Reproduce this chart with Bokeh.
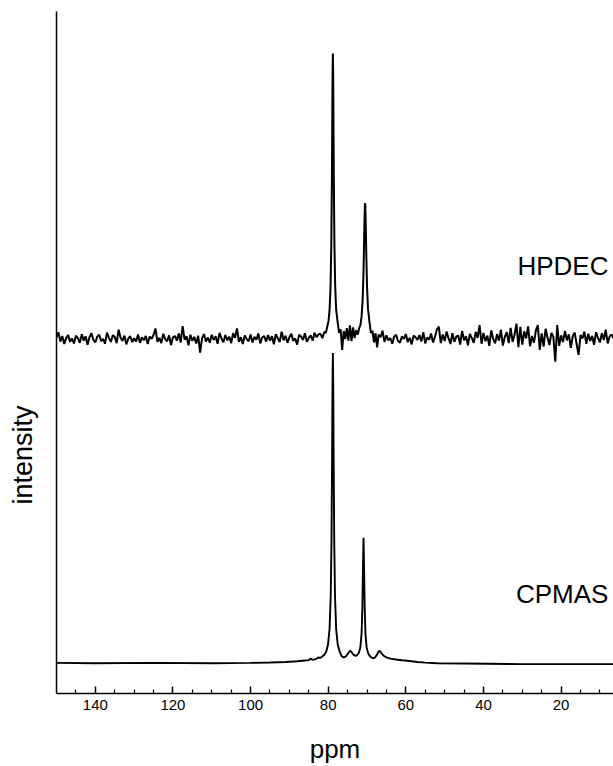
import numpy as np
from bokeh.plotting import figure
from bokeh.models import Range1d, FixedTicker, Label, Title
from bokeh.embed import file_html
from bokeh.resources import INLINE

# ---------------- data ----------------
x_major_ticks = [140, 120, 100, 80, 60, 40, 20]
x_minor_ticks = [145, 135, 130, 125, 115, 110, 105, 95, 90, 85, 75, 70, 65,
                 55, 50, 45, 35, 30, 25, 15, 10]

series_labels = ["HPDEC", "CPMAS"]

# CPMAS spectrum (ppm, intensity; big peak = 100)
cpmas_ppm = [150, 140, 125, 110, 100, 95, 91, 88, 86, 85, 84.5, 84.1, 83.4, 82.8,
             82.5, 82.1, 81.6, 81.0, 80.5, 80.05, 79.65, 79.35, 79.15, 79.0, 78.9,
             78.8, 78.7, 78.6, 78.45, 78.25, 77.95, 77.55, 77.05, 76.5, 76.0, 75.5,
             75.0, 74.6, 74.3, 74.0, 73.6, 73.2, 72.8, 72.4, 72.05, 71.7, 71.4, 71.2,
             71.05, 70.9, 70.75, 70.6, 70.4, 70.1, 69.75, 69.4, 69.0, 68.5, 68.0,
             67.5, 67.1, 66.85, 66.6, 66.2, 65.7, 65.0, 64.0, 62.5, 61.0, 59.0, 57.0,
             55.0, 52.0, 45.0, 30.0, 15.0, 6.5]
cpmas_int = [0.2, 0.1, 0.2, 0.1, 0.2, 0.35, 0.5, 0.75, 1.0, 1.1, 1.6, 1.2, 1.35, 1.7,
             2.0, 1.75, 2.2, 2.8, 3.9, 6.1, 11.1, 21.8, 39.9, 66.5, 88.9,
             100.0, 88.9, 66.5, 39.9, 21.8, 11.1, 6.2, 3.8, 2.3, 2.0, 2.25,
             3.0, 3.8, 4.1, 3.7, 3.0, 2.6, 2.5, 2.9, 3.65, 5.4, 9.7, 17.8,
             30.3, 40.5, 30.3, 17.8, 9.6, 5.2, 3.45, 2.6, 2.1, 1.7, 1.9,
             2.7, 3.7, 4.1, 3.9, 3.2, 2.5, 2.0, 1.6, 1.3, 1.05, 0.8, 0.5,
             0.3, 0.1, 0.0, -0.2, -0.2, -0.2]

# HPDEC spectrum: noisy baseline 150 -> 82.5 ppm (every 0.5 ppm)
hpdec_noise_left = [
    0.5, 2.2, -0.8, 1.0, -1.6, 0.4, 1.3, -0.9, 0.2, -1.4,
    1.1, 0.3, -1.2, 1.6, -0.5, 0.9, -1.8, 0.6, 1.9, -0.3,
    -1.1, 0.8, 1.4, -0.7, 0.1, -1.5, 2.1, 0.4, -0.9, 1.2,
    0.7, -1.3, 3.0, 0.5, -0.6, 1.1, -1.7, 0.2, 0.9, -1.0,
    0.3, -0.8, 1.5, -1.2, 0.6, -0.4, 1.0, -1.6, 0.8, 0.1,
    1.3, 3.4, -0.9, 0.4, -1.3, 1.7, 0.0, -0.7, 1.2, -1.9,
    0.5, 1.0, -0.5, 1.8, -1.1, 4.2, -0.2, 0.9, -2.0, 1.4,
    -0.6, 0.7, -1.4, 1.1, -4.4, 0.3, 1.6, -0.8, 0.5, -1.2,
    1.4, -0.3, 0.9, -1.5, 2.0, 0.2, -1.0, 1.3, -0.4, 0.8,
    -1.3, 1.9, 0.4, 3.4, -0.9, 0.6, -1.6, 1.2, 0.0, -0.7,
    1.5, -1.1, 0.7, -0.2, 1.8, -1.4, 0.5, 1.0, -0.8, 1.3,
    -0.5, 0.9, -1.7, 1.6, 0.3, -1.0, 2.4, -0.4, 1.1, -1.2,
    0.6, 1.7, -0.6, 0.2, -1.8, 1.4, 0.8, -0.3, 1.9, -0.9,
    0.4, 1.2, -0.5, 2.0, 0.6, 1.5]

# HPDEC peak region (ppm, intensity)
hpdec_peak_ppm = [82.0, 81.5, 81.0, 80.6, 80.2, 79.9, 79.65, 79.4, 79.2, 79.05, 78.95,
                  78.88, 78.8, 78.72, 78.65, 78.55, 78.4, 78.2, 77.95, 77.6, 77.2, 76.8,
                  76.4, 76.0, 75.6, 75.2, 74.8, 74.4, 74.0, 73.6, 73.2, 72.8, 72.4, 72.0,
                  71.7, 71.4, 71.15, 70.95, 70.8, 70.65, 70.55, 70.5, 70.45, 70.35, 70.2,
                  70.0, 69.75, 69.4, 69.0, 68.6, 68.2, 67.8, 67.4, 67.0]
hpdec_peak_int = [1.7, 0.3, 2.3, 2.0, 4.3, 5.9, 9.4, 16.8, 30.5, 51.4, 71.6,
                  85.1, 92.0, 85.1, 71.6, 51.4, 30.6, 16.9, 9.5, 5.7, 2.0, 3.1,
                  -3.5, 2.6, 0.0, 3.5, -0.5, 4.4, -0.7, 3.8, 0.3, 2.9, 1.4, 3.6,
                  4.5, 7.3, 12.1, 19.4, 28.1, 38.4, 43.1, 43.8, 43.1, 38.4, 28.1,
                  17.1, 9.8, 5.8, 2.0, 2.6, -1.1, 1.9, -2.7, 1.4]

# HPDEC noisy baseline 66.5 -> 6.5 ppm (every 0.5 ppm)
hpdec_noise_right = [
    0.6, 2.7, -0.9, 1.2, -0.4, 0.3, -1.5, 0.8, 1.4, -0.6,
    -1.2, 0.9, 0.1, 1.6, -1.0, 0.4, -1.7, 1.1, 0.6, -0.3,
    1.3, -0.8, 2.2, -1.4, 0.5, -0.2, 1.8, -1.1, 0.7, 3.1,
    4.0, -1.3, 1.5, -0.6, 2.4, 0.2, -1.6, 1.9, -0.9, 0.8,
    1.2, -1.8, 2.6, -0.4, 0.9, -2.0, 1.7, 0.3, -1.2, 2.3,
    0.4, 4.5, -1.5, 2.0, -0.7, 1.1, -2.2, 2.8, 0.1, -1.4,
    1.6, -0.5, 3.0, -2.1, 0.7, 2.2, -1.3, 3.6, -0.9, 1.4,
    5.0, -2.6, 3.9, -1.8, 2.5, 0.2, 4.1, -2.3, 1.0, -1.2,
    2.7, 4.5, -3.5, 1.8, -2.4, 3.3, 0.5, -1.9, 2.0, 0.8,
    -7.3, 4.5, -2.2, 1.2, -1.0, 2.6, -0.4, 1.5, -2.8, 0.9,
    2.1, -1.6, -5.1, 1.3, 0.2, 2.4, -1.5, 1.7, -0.6, 1.0,
    -1.8, 2.2, 0.4, -1.1, 1.9, -0.3, 3.0, -1.4, 0.8, 1.5,
    0.2]

HPDEC_OFFSET = 104.5  # vertical stacking offset of the upper trace

hpdec_ppm = np.concatenate([np.linspace(150, 82.5, len(hpdec_noise_left)),
                            np.array(hpdec_peak_ppm),
                            np.linspace(66.5, 6.5, len(hpdec_noise_right))])
hpdec_int = np.concatenate([hpdec_noise_left, hpdec_peak_int, hpdec_noise_right]) + HPDEC_OFFSET

# ---------------- figure ----------------
FONT = "Liberation Sans"

p = figure(width=613, height=766,
           x_range=Range1d(150, 6.5), y_range=Range1d(-9.65, 210),
           output_backend="svg", toolbar_location=None,
           min_border_left=56, min_border_right=0,
           min_border_top=11, min_border_bottom=72)
p.grid.visible = False
p.outline_line_color = None
p.background_fill_color = "white"
p.border_fill_color = "white"

p.line(cpmas_ppm, cpmas_int, line_color="black", line_width=1.9)
p.line(hpdec_ppm, hpdec_int, line_color="black", line_width=2.0)

xa = p.xaxis[0]
xa.ticker = FixedTicker(ticks=x_major_ticks, minor_ticks=x_minor_ticks)
xa.axis_line_color = "black"
xa.axis_line_width = 1.5
xa.major_tick_in = 7
xa.major_tick_out = 0
xa.minor_tick_in = 4
xa.minor_tick_out = 0
xa.major_tick_line_width = 1.5
xa.minor_tick_line_width = 1.2
xa.major_label_text_font = FONT
xa.major_label_text_font_size = "15px"
xa.major_label_text_color = "black"
xa.major_label_standoff = 6
xa.axis_label = "ppm"
xa.axis_label_text_font = FONT
xa.axis_label_text_font_size = "26px"
xa.axis_label_text_font_style = "normal"
xa.axis_label_text_color = "black"
xa.axis_label_standoff = 21

ya = p.yaxis[0]
ya.axis_line_color = "black"
ya.axis_line_width = 1.5
# no visible ticks or tick labels; the invisible outward tick length only
# reserves room so that the axis title sits further left
ya.major_tick_line_color = None
ya.minor_tick_line_color = None
ya.major_tick_in = 0
ya.major_tick_out = 18
ya.minor_tick_in = 0
ya.minor_tick_out = 0
ya.major_label_text_color = None
ya.major_label_text_font_size = "0px"
ya.major_label_standoff = 0

p.add_layout(Title(text="intensity", align="left", offset=189, standoff=0,
                   vertical_align="middle", text_font=FONT,
                   text_font_size="27px", text_font_style="normal",
                   text_color="black"), "left")

p.add_layout(Label(x=7.8, y=127.9, text=series_labels[0], text_align="right",
                   text_baseline="alphabetic", text_font=FONT,
                   text_font_size="26px", text_color="black"))
p.add_layout(Label(x=7.8, y=22.5, text=series_labels[1], text_align="right",
                   text_baseline="alphabetic", text_font=FONT,
                   text_font_size="26px", text_color="black"))

open("out.html", "w").write(file_html(p, INLINE))
